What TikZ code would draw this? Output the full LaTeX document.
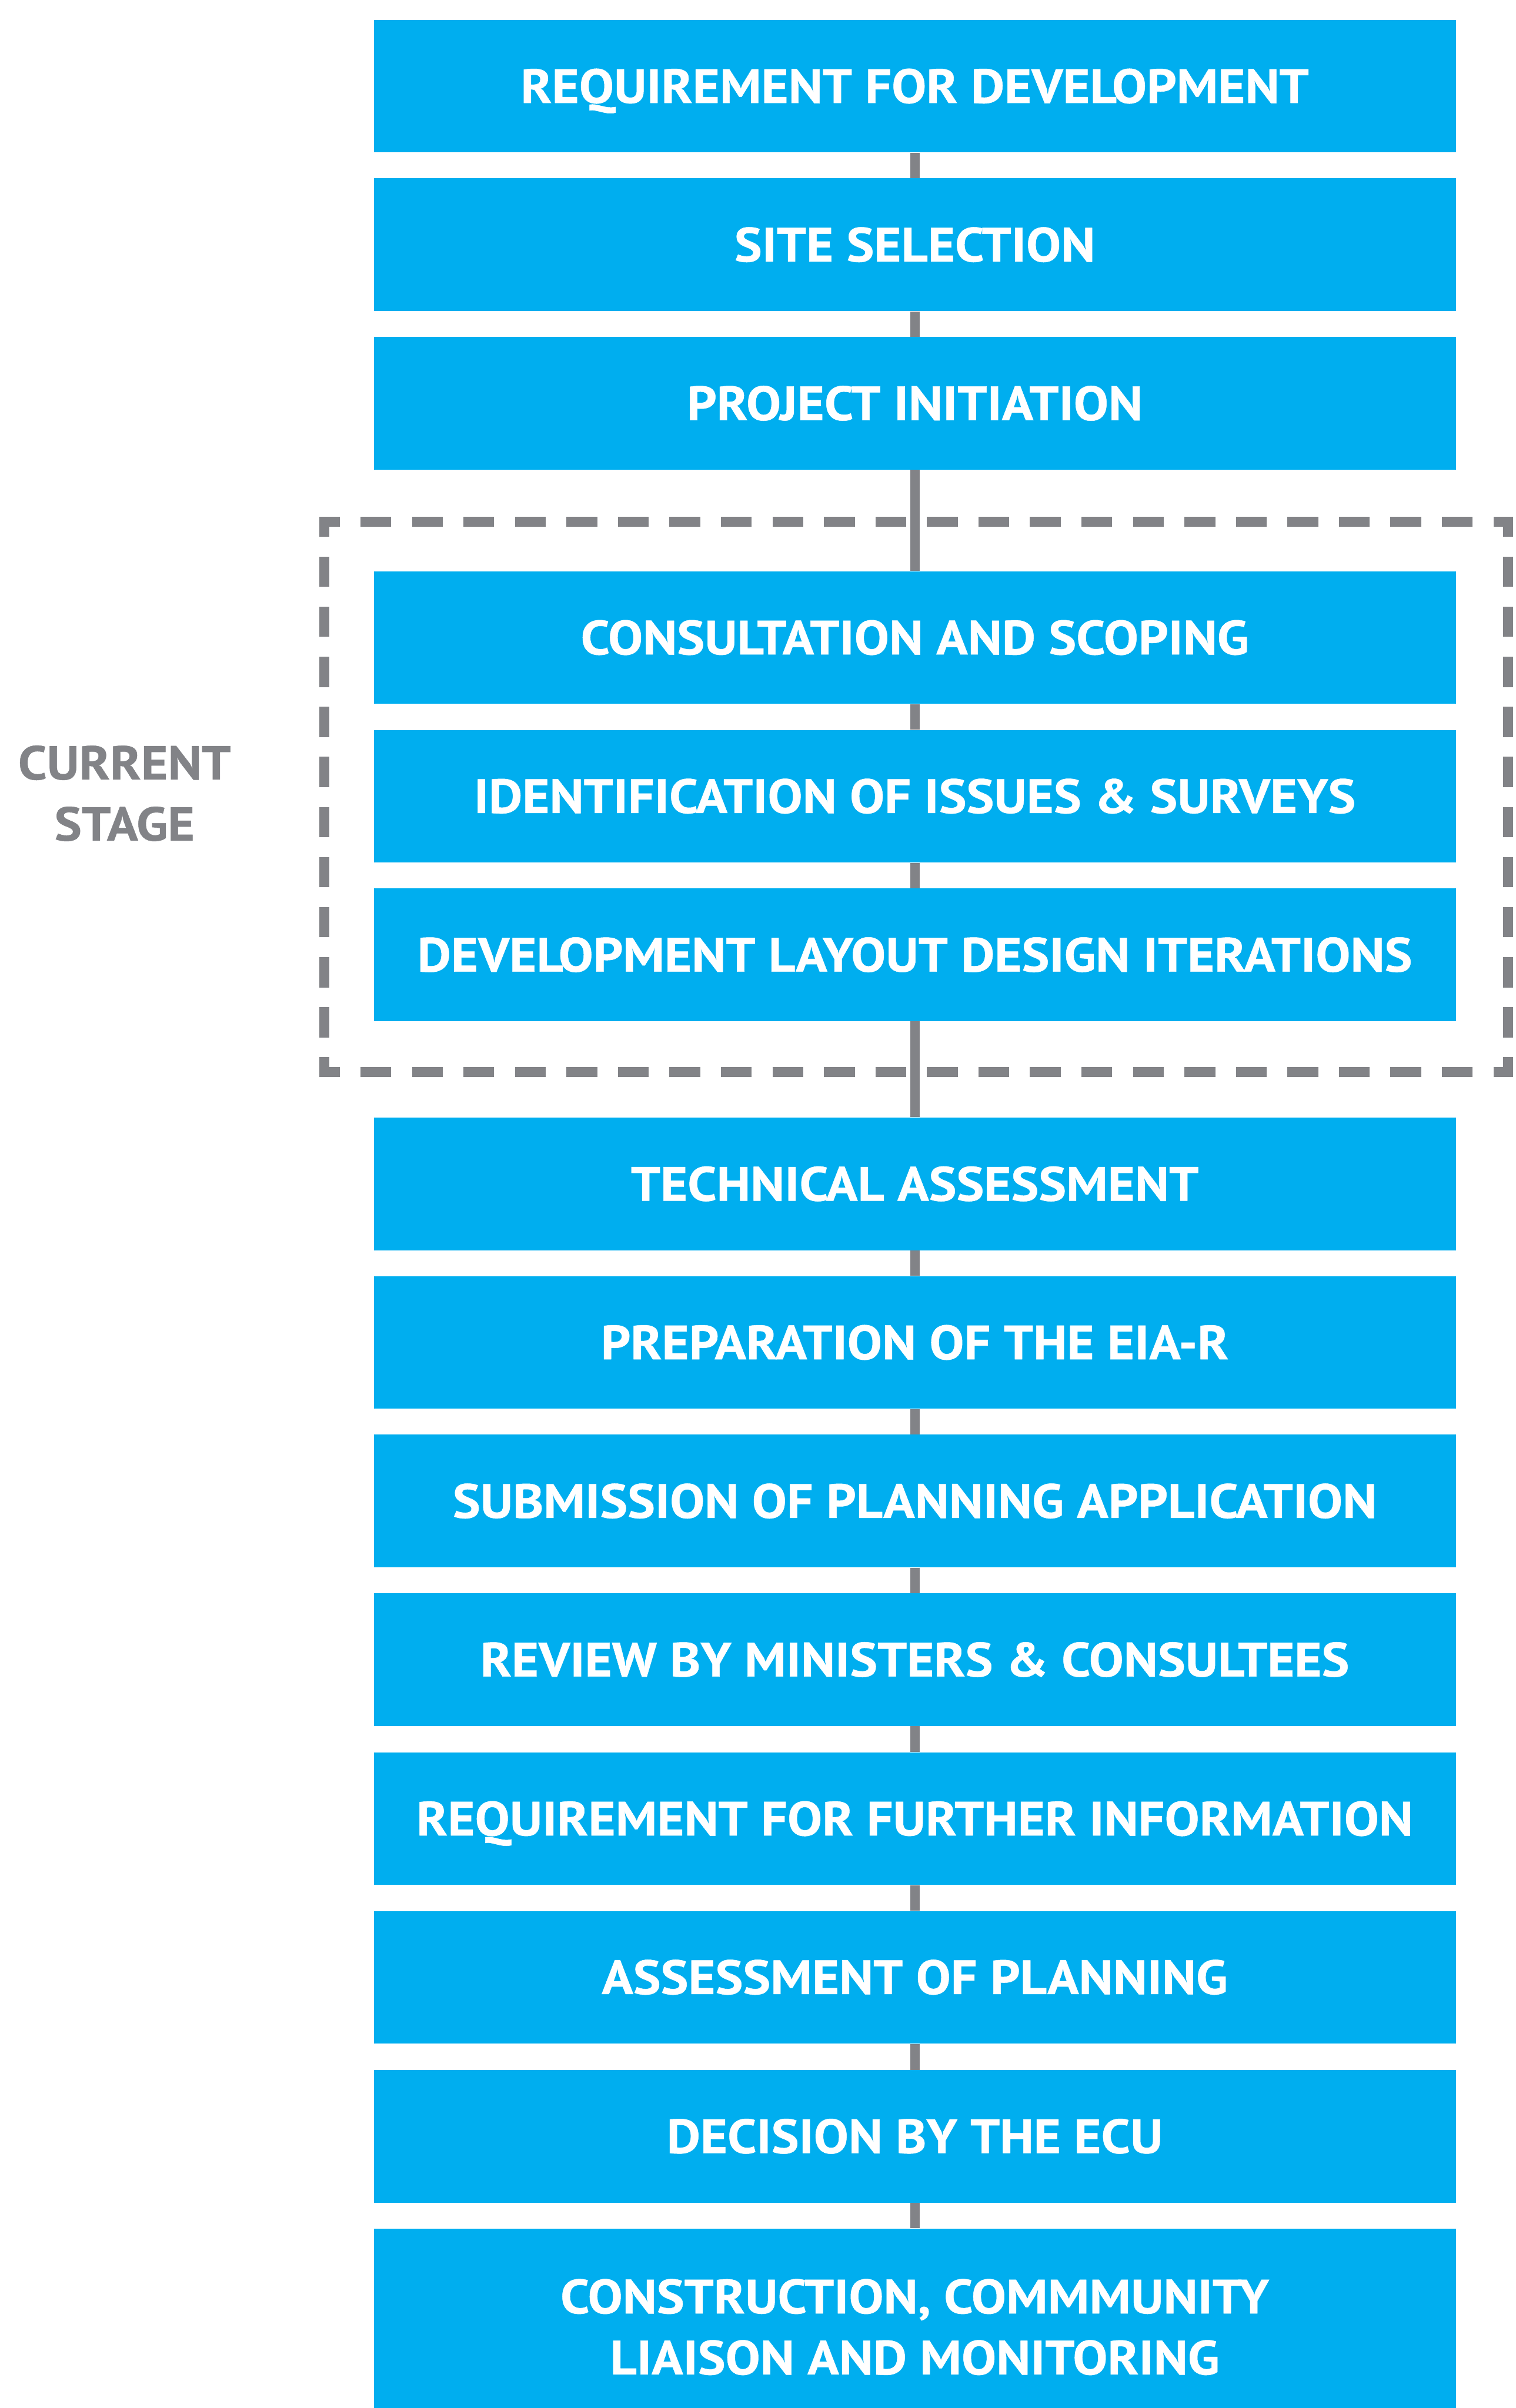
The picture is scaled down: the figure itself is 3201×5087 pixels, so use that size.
\documentclass[tikz,border=0pt]{standalone}
\usepackage{fontspec}
\setmainfont{PT Sans}[BoldFeatures={FakeStretch=1.08,FakeBold=0.6}]
\definecolor{stageblue}{HTML}{00AEEF}
\definecolor{linegray}{HTML}{828387}
\begin{document}
\begin{tikzpicture}[x=0.01cm,y=-0.01cm,
  stagefill/.style={fill=stageblue, minimum width=22.84cm, minimum height=2.8cm,
    inner sep=0pt, text=white, align=center,
    font=\fontsize{28.9}{36.7}\selectfont\bfseries},
  stagebox/.style={stagefill, text height=0.71cm, text depth=0pt},
  link/.style={draw=linegray, line width=0.2cm},
  frame/.style={draw=linegray, line width=0.21cm, line cap=butt},
  sidenote/.style={text=linegray, align=center, inner sep=0pt,
    font=\fontsize{28.6}{36.7}\selectfont\bfseries},
]
\useasboundingbox (0,0) rectangle (3201,5087);
\clip (0,0) rectangle (3201,5087);

% dashed frame around the current stage (each side starts and ends on a half dash)
\draw[frame, dash pattern=on 0.65cm off 0.437cm, dash phase=0.22cm] (674.5,1102) -- (3195.5,1102);
\draw[frame, dash pattern=on 0.65cm off 0.437cm, dash phase=0.22cm] (674.5,2265) -- (3195.5,2265);
\draw[frame, dash pattern=on 0.64cm off 0.417cm, dash phase=0.215cm] (685,1091.5) -- (685,2275.5);
\draw[frame, dash pattern=on 0.64cm off 0.417cm, dash phase=0.215cm] (3185,1091.5) -- (3185,2275.5);

% process steps
\node[stagebox] (s1)  at (1932,182)  {REQUIREMENT FOR DEVELOPMENT};
\node[stagebox] (s2)  at (1932,517)  {SITE SELECTION};
\node[stagebox] (s3)  at (1932,852)  {PROJECT INITIATION};
\node[stagebox] (s4)  at (1932,1347) {CONSULTATION AND SCOPING};
\node[stagebox] (s5)  at (1932,1682) {IDENTIFICATION OF ISSUES \& SURVEYS};
\node[stagebox] (s6)  at (1932,2017) {DEVELOPMENT LAYOUT DESIGN ITERATIONS};
\node[stagebox] (s7)  at (1932,2501) {TECHNICAL ASSESSMENT};
\node[stagebox] (s8)  at (1932,2836) {PREPARATION OF THE EIA-R};
\node[stagebox] (s9)  at (1932,3171) {SUBMISSION OF PLANNING APPLICATION};
\node[stagebox] (s10) at (1932,3506) {REVIEW BY MINISTERS \& CONSULTEES};
\node[stagebox] (s11) at (1932,3842) {REQUIREMENT FOR FURTHER INFORMATION};
\node[stagebox] (s12) at (1932,4177) {ASSESSMENT OF PLANNING};
\node[stagebox] (s13) at (1932,4513) {DECISION BY THE ECU};
\node[stagefill, minimum height=4.16cm] (s14) at (1932,4916)
  {CONSTRUCTION, COMMMUNITY\\LIAISON AND MONITORING};

% connectors
\foreach \a/\b in {s1/s2,s2/s3,s3/s4,s4/s5,s5/s6,s6/s7,s7/s8,s8/s9,s9/s10,s10/s11,s11/s12,s12/s13,s13/s14}
  \draw[link] (\a.south) -- (\b.north);

% label for the framed group
\node[sidenote] (current) at (263,1676) {CURRENT\\STAGE};
\end{tikzpicture}
\end{document}
